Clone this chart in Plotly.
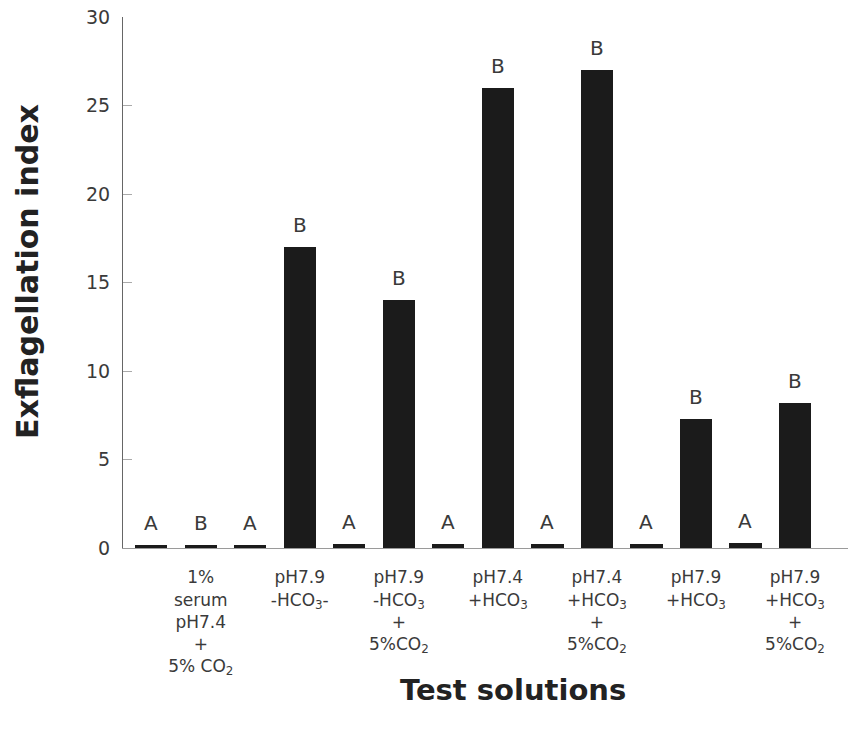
import plotly.graph_objects as go

# Exflagellation index for each test solution (control/test pairs)
positions = list(range(1, 15))
values = [0.15, 0.15, 0.15, 17.0, 0.2, 14.0, 0.2, 26.0, 0.2, 27.0, 0.25, 7.3, 0.3, 8.2]
letters = ["A", "B", "A", "B", "A", "B", "A", "B", "A", "B", "A", "B", "A", "B"]

# Category labels sit under the second bar of each pair
label_positions = [2, 4, 6, 8, 10, 12, 14]
label_text = [
    "1%<br>serum<br>pH7.4<br>+<br>5% CO<sub>2</sub>",
    "pH7.9<br>-HCO<sub>3</sub>-",
    "pH7.9<br>-HCO<sub>3</sub><br>+<br>5%CO<sub>2</sub>",
    "pH7.4<br>+HCO<sub>3</sub>",
    "pH7.4<br>+HCO<sub>3</sub><br>+<br>5%CO<sub>2</sub>",
    "pH7.9<br>+HCO<sub>3</sub>",
    "pH7.9<br>+HCO<sub>3</sub><br>+<br>5%CO<sub>2</sub>",
]
y_ticks = [0, 5, 10, 15, 20, 25, 30]

TEXT = "#3a3a3a"

fig = go.Figure(
    go.Bar(
        x=positions,
        y=values,
        width=0.65,
        marker=dict(color="#1b1b1b", line=dict(width=0)),
        showlegend=False,
        hoverinfo="skip",
    )
)

# significance letters above each bar
for xp, v, t in zip(positions, values, letters):
    fig.add_annotation(
        x=xp, y=v, text=t, showarrow=False,
        yanchor="bottom", yshift=8,
        font=dict(family="DejaVu Sans", size=20, color=TEXT),
    )

fig.add_annotation(
    xref="paper", yref="paper", x=0, y=0.52, xshift=-95,
    text="<b>Exflagellation index</b>", textangle=-90, showarrow=False,
    xanchor="center", yanchor="middle",
    font=dict(family="DejaVu Sans", size=30, color="#222"),
)
fig.add_annotation(
    xref="paper", yref="paper", x=0.538, y=0, yshift=-142,
    text="<b>Test solutions</b>", showarrow=False,
    xanchor="center", yanchor="middle",
    font=dict(family="DejaVu Sans", size=29, color="#222"),
)

fig.update_layout(
    width=853, height=734,
    margin=dict(l=123, r=5, t=17, b=186),
    paper_bgcolor="white", plot_bgcolor="white",
    bargap=0,
)
fig.update_xaxes(
    range=[0.43, 15.07],
    tickmode="array", tickvals=label_positions, ticktext=label_text,
    ticks="", showgrid=False, zeroline=False,
    showline=True, linecolor="#9a9a9a", linewidth=1,
    tickfont=dict(family="DejaVu Sans", size=17, color=TEXT),
    ticklabelstandoff=14,
)
fig.update_yaxes(
    range=[0, 30],
    tickmode="array", tickvals=y_ticks,
    ticks="inside", ticklen=9, tickcolor="#aaaaaa", tickwidth=1,
    showgrid=False, zeroline=False,
    showline=True, linecolor="#666666", linewidth=1,
    tickfont=dict(family="DejaVu Sans", size=19, color=TEXT),
    ticklabelstandoff=8,
)

fig.write_html("out.html")
